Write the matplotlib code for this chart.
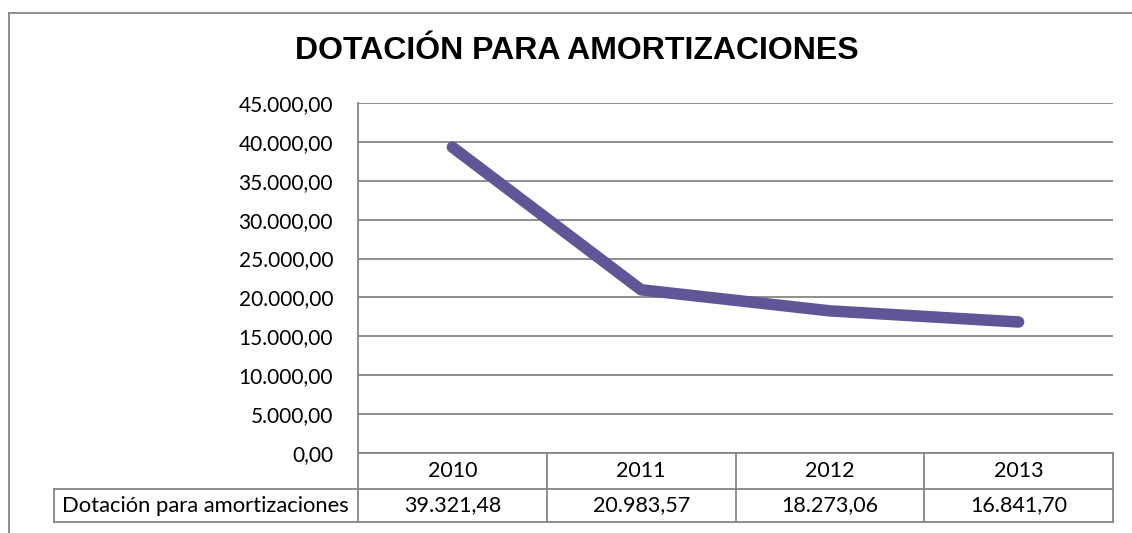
import numpy as np
import matplotlib.pyplot as plt
from matplotlib.lines import Line2D

years = ['2010', '2011', '2012', '2013']
values = [39321.48, 20983.57, 18273.06, 16841.70]
value_labels = ['39.321,48', '20.983,57', '18.273,06', '16.841,70']
series_name = 'Dotación para amortizaciones'
title = 'DOTACIÓN PARA AMORTIZACIONES'
yticks = np.arange(0, 45001, 5000)

W, H = 1132, 533
grid_col = '#868686'
line_col = '#5F5597'
font = 'Lato'


def fx(px):
    return px / W


def fy(py):
    return 1 - py / H


fig = plt.figure(figsize=(W / 100, H / 100), dpi=100)

# plot area
left, right, top, bottom = 358, 1113, 103, 453
ax = fig.add_axes([fx(left), fy(bottom), fx(right - left), (bottom - top) / H])
x = np.arange(len(years)) + 0.5
ax.plot(x, values, color=line_col, lw=8.3, solid_capstyle='round',
        solid_joinstyle='round', zorder=3)
ax.set_xlim(0, len(years))
ax.set_ylim(0, 45000)
ax.set_yticks(yticks)
ax.set_yticklabels([f'{v:,.2f}'.replace(',', 'X').replace('.', ',').replace('X', '.')
                    for v in yticks], fontfamily=font, fontsize=15)
ax.tick_params(axis='y', length=0, pad=18)
ax.set_xticks([])
ax.grid(axis='y', color=grid_col, lw=1.3)
for s in ['top', 'right', 'bottom']:
    ax.spines[s].set_visible(False)
ax.spines['left'].set_color(grid_col)
ax.spines['left'].set_linewidth(1.3)

# data table below
tleft, trow, tbot = 54, 489, 522
tab = fig.add_axes([fx(tleft), fy(tbot), fx(right - tleft), (tbot - bottom) / H])
unit = (right - left) / len(years)
tab.set_xlim(-(left - tleft) / unit, len(years))
tab.set_ylim(tbot, bottom)
tab.axis('off')
kw = dict(color=grid_col, lw=1.3, clip_on=False)
xl = -(left - tleft) / unit
tab.plot([0, len(years)], [bottom, bottom], **kw)
tab.plot([xl, len(years)], [trow, trow], **kw)
tab.plot([xl, len(years)], [tbot, tbot], **kw)
tab.plot([xl, xl], [trow, tbot], **kw)
for i in range(len(years) + 1):
    tab.plot([i, i], [bottom, tbot], **kw)
for i, (yr, lab) in enumerate(zip(years, value_labels)):
    tab.text(i + 0.5, (bottom + trow) / 2, yr, ha='center', va='center',
             fontfamily=font, fontsize=15.5)
    tab.text(i + 0.5, (trow + tbot) / 2, lab, ha='center', va='center',
             fontfamily=font, fontsize=15.5)
tab.text(xl + 0.04, (trow + tbot) / 2, series_name, ha='left', va='center',
         fontfamily=font, fontsize=15.8)

fig.text(fx(577), fy(51), title, ha='center', va='center',
         fontfamily='Liberation Sans', fontweight='bold', fontsize=23)

# chart area border (left and top visible)
fig.add_artist(Line2D([fx(8.5), fx(8.5)], [fy(533), fy(13)], color=grid_col, lw=1.3))
fig.add_artist(Line2D([fx(8.5), fx(1132)], [fy(13), fy(13)], color=grid_col, lw=1.3))

fig.savefig('out.png', dpi=100, facecolor='white')
